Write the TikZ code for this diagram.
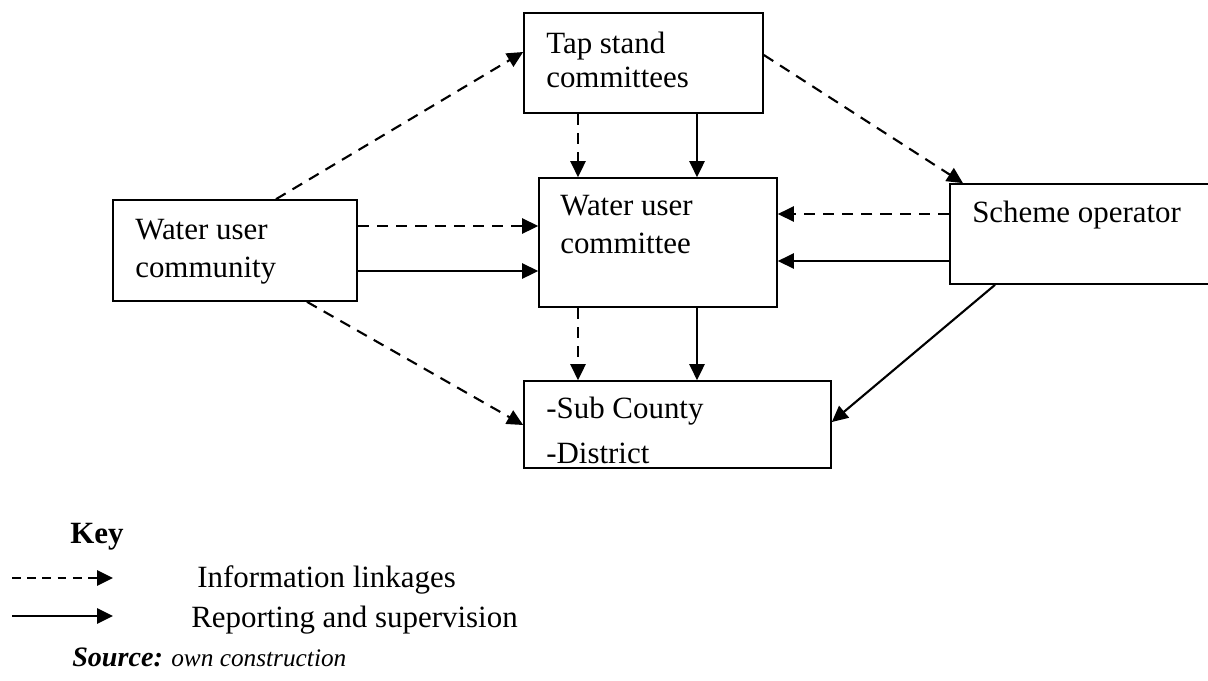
\documentclass[tikz,border=0pt]{standalone}
\usepackage{fontspec}
\setmainfont{Liberation Serif}
\usetikzlibrary{arrows.meta}
\begin{document}
\begin{tikzpicture}[x=0.25mm,y=-0.25mm]


\tikzset{box/.style={rectangle,draw,line width=1.2pt,inner sep=0pt},}
\tikzset{txt/.style={inner sep=0pt,align=left,anchor=base west,font=\fontsize{22}{#1}\selectfont},txt/.default=27}
\tikzset{info/.style={->,line width=1.5pt,dash pattern=on 2.8mm off 2mm},}
\tikzset{report/.style={->,line width=1.5pt},}
\tikzset{>={Triangle[length=4mm,width=3.8mm]}}

\useasboundingbox (0,0) rectangle (1208,680);

	\draw
		(643.5,63) node[box,minimum width=59.75mm,minimum height=25mm] (tap) {}
		(658,242.5) node[box,minimum width=59.5mm,minimum height=32.25mm] (wuc) {}
		(235,250.5) node[box,minimum width=61mm,minimum height=25.25mm] (com) {}
		(1080,234) node[box,minimum width=65mm,minimum height=25mm] (sch) {}
		(677.5,424.5) node[box,minimum width=76.75mm,minimum height=21.75mm] (sub) {};

	% base anchor sits on the last line
	\draw
		(546,87) node[txt=24] (tapT) {Tap stand\\committees}
		(560,253) node[txt] (wucT) {Water user\\committee}
		(135,277) node[txt] (comT) {Water user\\community}
		(972,222) node[txt] (schT) {Scheme operator}
		(546,463) node[txt=32] (subT) {-Sub County\\-District};

	\draw[info](com.north -| 276,0) -- (tap.west |- 0,52);
	\draw[info](tap.east |- 0,55) -- (sch.north -| 963,0);
	\draw[info](tap.south -| 578,0) -- (wuc.north -| 578,0);
	\draw[report](tap.south -| 697,0) -- (wuc.north -| 697,0);

	\draw[info](com.east |- 0,226) -- (wuc.west |- 0,226);
	\draw[report](com.east |- 0,271) -- (wuc.west |- 0,271);
	\draw[info](sch.west |- 0,214) -- (wuc.east |- 0,214);
	\draw[report](sch.west |- 0,261) -- (wuc.east |- 0,261);

	\draw[info](wuc.south -| 578,0) -- (sub.north -| 578,0);
	\draw[report](wuc.south -| 697,0) -- (sub.north -| 697,0);
	\draw[info](com.south -| 307,0) -- (sub.west |- 0,425);
	\draw[report](sch.south -| 995,0) -- (sub.east |- 0,422);

	% key
	\draw
		(70,543) node[txt] (keyT) {\textbf{Key}}
		(12,578) coordinate (k1s) (113,578) coordinate (k1e)
		(12,616) coordinate (k2s) (113,616) coordinate (k2e)
		(197,587) node[txt] (infoT) {Information linkages}
		(191,627) node[txt] (repT) {Reporting and supervision}
		(72,666) node[txt,font=\fontsize{18}{20}\selectfont] (srcT) {{\fontsize{20}{22}\selectfont\textbf{\textit{Source:}}} \textit{own construction}};
	\draw[info,dash pattern=on 2.2mm off 1.6mm](k1s) -- (k1e);
	\draw[report](k2s) -- (k2e);


\end{tikzpicture}
\end{document}
